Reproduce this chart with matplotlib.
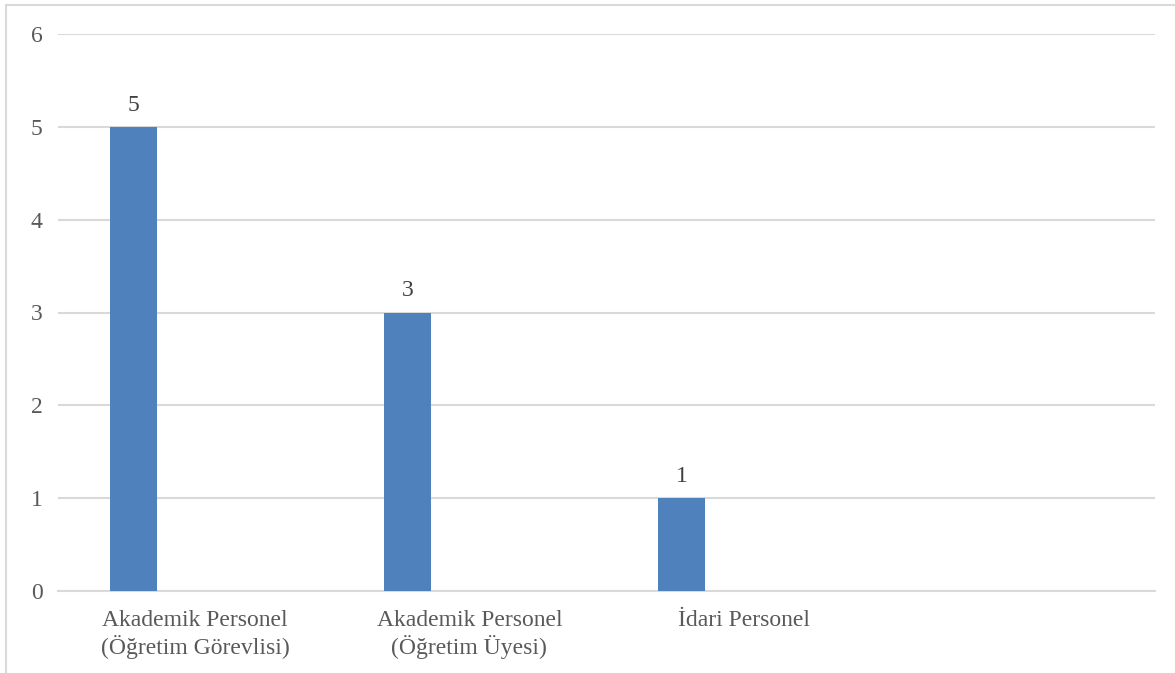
import matplotlib.pyplot as plt
from matplotlib.patches import Rectangle

kategoriler = ["Akademik Personel\n(Öğretim Görevlisi)",
               "Akademik Personel\n(Öğretim Üyesi)",
               "İdari Personel",
               ""]
degerler = [5, 3, 1, None]
y_ticks = [0, 1, 2, 3, 4, 5, 6]

plt.rcParams['font.family'] = ['Liberation Serif', 'DejaVu Serif']
metin_rengi = '#595959'

W, H = 1175, 673
fig = plt.figure(figsize=(W / 100, H / 100), dpi=100)
ax = fig.add_axes([58 / W, 1 - 591 / H, (1155 - 58) / W, (591 - 34) / H])

# grafik kenarlığı (sağ ve alt kenarlar kırpılmış)
fig.patches.append(Rectangle((6 / W, -0.1), 1.2, 1 - 5 / H + 0.1,
                             transform=fig.transFigure, fill=False,
                             edgecolor='#D9D9D9', linewidth=1.5))

x = list(range(len(kategoriler)))
bar_w = 0.171
offset = -0.225
for i, v in enumerate(degerler):
    if v is None:
        continue
    ax.bar(x[i] + offset, v, width=bar_w, color='#4F81BD', zorder=3)
    ax.text(x[i] + offset, v + 0.12, str(v), ha='center', va='bottom',
            fontsize=17, color='#404040')

ax.set_xlim(-0.5, len(kategoriler) - 0.5)
ax.set_ylim(0, 6)
ax.set_yticks(y_ticks)
ax.yaxis.grid(True, color='#D9D9D9', linewidth=1.5, zorder=0)
ax.set_axisbelow(True)
ax.set_xticks(x)
ax.set_xticklabels(kategoriler, fontsize=17, color=metin_rengi, linespacing=1.18)
ax.tick_params(axis='y', labelsize=17, labelcolor=metin_rengi, length=0, pad=11)
ax.tick_params(axis='x', length=0, pad=14)
for s in ['top', 'right', 'left']:
    ax.spines[s].set_visible(False)
ax.spines['bottom'].set_color('#D9D9D9')
ax.spines['bottom'].set_linewidth(1.5)

fig.savefig('out.png', dpi=100)
